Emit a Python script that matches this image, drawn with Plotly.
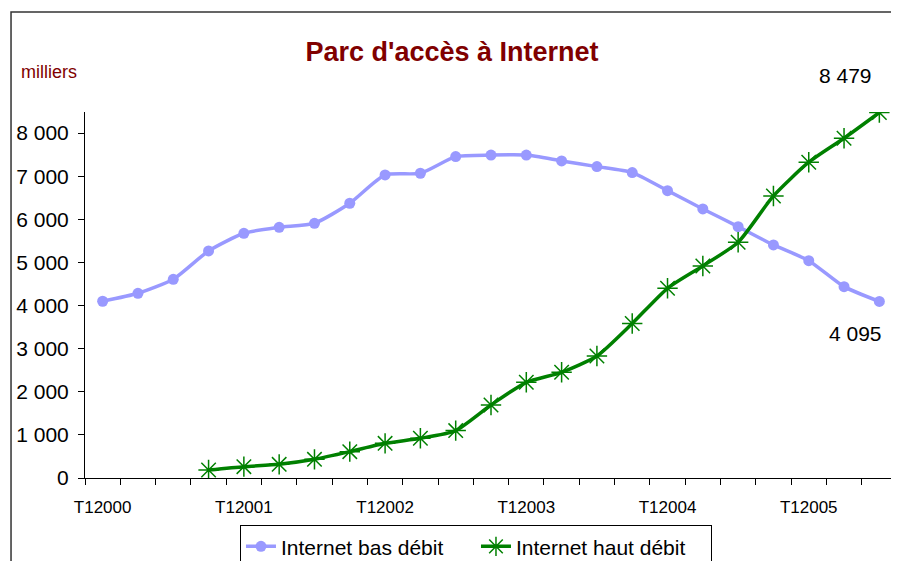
import plotly.graph_objects as go

quarters = [f"T{q}{y}" for y in range(2000, 2006) for q in range(1, 5)][:23]
bas_debit = [4100, 4285, 4610, 5267, 5677, 5816, 5909, 6373, 7030, 7069, 7455, 7490,
             7490, 7355, 7223, 7084, 6666, 6241, 5831, 5406, 5042, 4439, 4095]
haut_debit = [None, None, None, 186, 263, 317, 433, 611, 804, 921, 1100, 1694,
              2220, 2452, 2830, 3585, 4401, 4919, 5469, 6543, 7325, 7882, 8479]
label_ticks = quarters[::4]

idx = list(range(len(quarters)))

fig = go.Figure()
fig.add_trace(go.Scatter(
    x=idx, y=bas_debit, name="Internet bas débit", mode="lines+markers",
    line=dict(color="#9999FF", width=3.5, shape="spline", smoothing=0.6),
    marker=dict(symbol="circle", size=11, color="#9999FF"),
))
fig.add_trace(go.Scatter(
    x=idx, y=haut_debit, name="Internet haut débit", mode="lines+markers",
    line=dict(color="#008000", width=3.5, shape="spline", smoothing=0.6),
    marker=dict(symbol="asterisk-open", size=17, color="#008000",
                line=dict(color="#008000", width=1.5)),
))

def fr(v):
    return f"{v:,}".replace(",", " ")

fig.add_annotation(x=idx[-1], y=haut_debit[-1], xref="x", yref="y",
                   text=fr(haut_debit[-1]), showarrow=False, xshift=-34, yshift=37,
                   font=dict(size=21, color="black", family="Liberation Sans"))
fig.add_annotation(x=idx[-1], y=bas_debit[-1], xref="x", yref="y",
                   text=fr(bas_debit[-1]), showarrow=False, xshift=-24, yshift=-32,
                   font=dict(size=21, color="black", family="Liberation Sans"))
fig.add_annotation(x=(19 - 85) / 812, y=(478 - 72) / 366, xref="paper", yref="paper",
                   xanchor="left", yanchor="middle",
                   text="milliers", showarrow=False,
                   font=dict(size=18, color="#800000", family="Liberation Sans"))

fig.add_shape(type="rect", xref="paper", yref="paper",
              x0=-0.0911, x1=1.2, y0=-0.6, y1=1.273,
              line=dict(color="#333333", width=1.5), layer="below")

fig.update_layout(
    width=891, height=553,
    paper_bgcolor="white", plot_bgcolor="white",
    margin=dict(l=77, r=2, t=104, b=83, autoexpand=False),
    separators=", ",
    font=dict(family="Liberation Sans", color="black"),
    title=dict(text="<b>Parc d'accès à Internet</b>", x=444 / 891, xref="container",
               xanchor="center", y=1 - 44 / 553, yanchor="middle",
               font=dict(size=27, color="#800000", family="Liberation Sans")),
    showlegend=True,
    legend=dict(orientation="h", x=0.4815, xanchor="center", y=-0.129, yanchor="top",
                bordercolor="black", borderwidth=1, bgcolor="white",
                font=dict(size=21, family="Liberation Sans"),
                entrywidth=190, entrywidthmode="pixels",
                tracegroupgap=0),
)
fig.update_xaxes(
    range=[-0.5, len(quarters) - 0.5], showgrid=False, zeroline=False,
    showline=True, linecolor="black", linewidth=1,
    tickmode="array", tickvals=idx[::4], ticktext=label_ticks, ticks="",
    tickfont=dict(size=17), ticklabelstandoff=14, automargin=False,
    minor=dict(tickmode="linear", tick0=-0.5, dtick=1, ticks="outside",
               ticklen=6, tickcolor="black", tickwidth=1, showgrid=False),
)
fig.update_yaxes(
    range=[0, 8490], showgrid=False, zeroline=False,
    showline=True, linecolor="black", linewidth=1,
    tickmode="linear", tick0=0, dtick=1000, tickformat=",d",
    ticks="outside", ticklen=6, tickcolor="black", automargin=False,
    tickfont=dict(size=21), ticklabelstandoff=5,
)

fig.write_html("out.html")
